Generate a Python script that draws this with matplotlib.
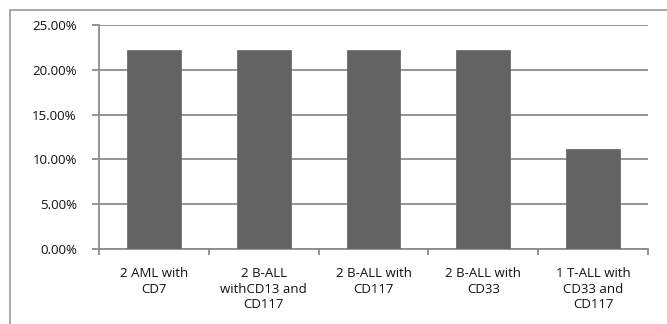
import matplotlib
matplotlib.use("Agg")
import matplotlib.pyplot as plt
import matplotlib.patches as patches
from matplotlib.ticker import FuncFormatter, MultipleLocator

categories = ["2 AML with\nCD7", "2 B-ALL\nwithCD13 and\nCD117", "2 B-ALL with\nCD117",
              "2 B-ALL with\nCD33", "1 T-ALL with\nCD33 and\nCD117"]
values = [22.22, 22.22, 22.22, 22.22, 11.11]

W, H = 667, 324
fig = plt.figure(figsize=(W / 100, H / 100), dpi=100)
plt.rcParams['font.family'] = ['Open Sans', 'DejaVu Sans']

# outer chart frame, cut off at right and bottom like the reference
frame = patches.Rectangle((10 / W, -0.1), 1.2, (H - 10) / H + 0.1, transform=fig.transFigure,
                          fill=False, edgecolor='#a0a0a0', lw=1.3)
fig.add_artist(frame)

ax = fig.add_axes([99 / W, (H - 249) / H, (648 - 99) / W, (249 - 25) / H])
x = range(len(categories))
ax.bar(x, values, width=0.49, color='#636363', edgecolor='#6e6e6e', lw=0.6, zorder=3)

ax.set_xlim(-0.5, len(categories) - 0.5)
ax.set_ylim(0, 25)
ax.yaxis.set_major_locator(MultipleLocator(5))
ax.yaxis.set_major_formatter(FuncFormatter(lambda v, p: f"{v:.2f}%"))
ax.grid(axis='y', color='#8c8c8c', lw=1.3, zorder=0)

for s in ['top', 'right']:
    ax.spines[s].set_visible(False)
for s in ['left', 'bottom']:
    ax.spines[s].set_color('#8c8c8c')
    ax.spines[s].set_linewidth(1.3)

ax.set_xticks([i - 0.5 for i in range(len(categories) + 1)])
ax.set_xticklabels([])
ax.set_xticks(list(x), minor=True)
ax.set_xticklabels(categories, minor=True, fontsize=9.5, color='#111111', linespacing=1.25)
ax.tick_params(axis='x', which='major', length=4, color='#8c8c8c', width=1.3)
ax.tick_params(axis='x', which='minor', length=0, pad=13)
ax.tick_params(axis='y', length=5, color='#8c8c8c', width=1.3, labelsize=9.5,
               labelcolor='#111111', pad=11)

fig.savefig("out.png", dpi=100)
